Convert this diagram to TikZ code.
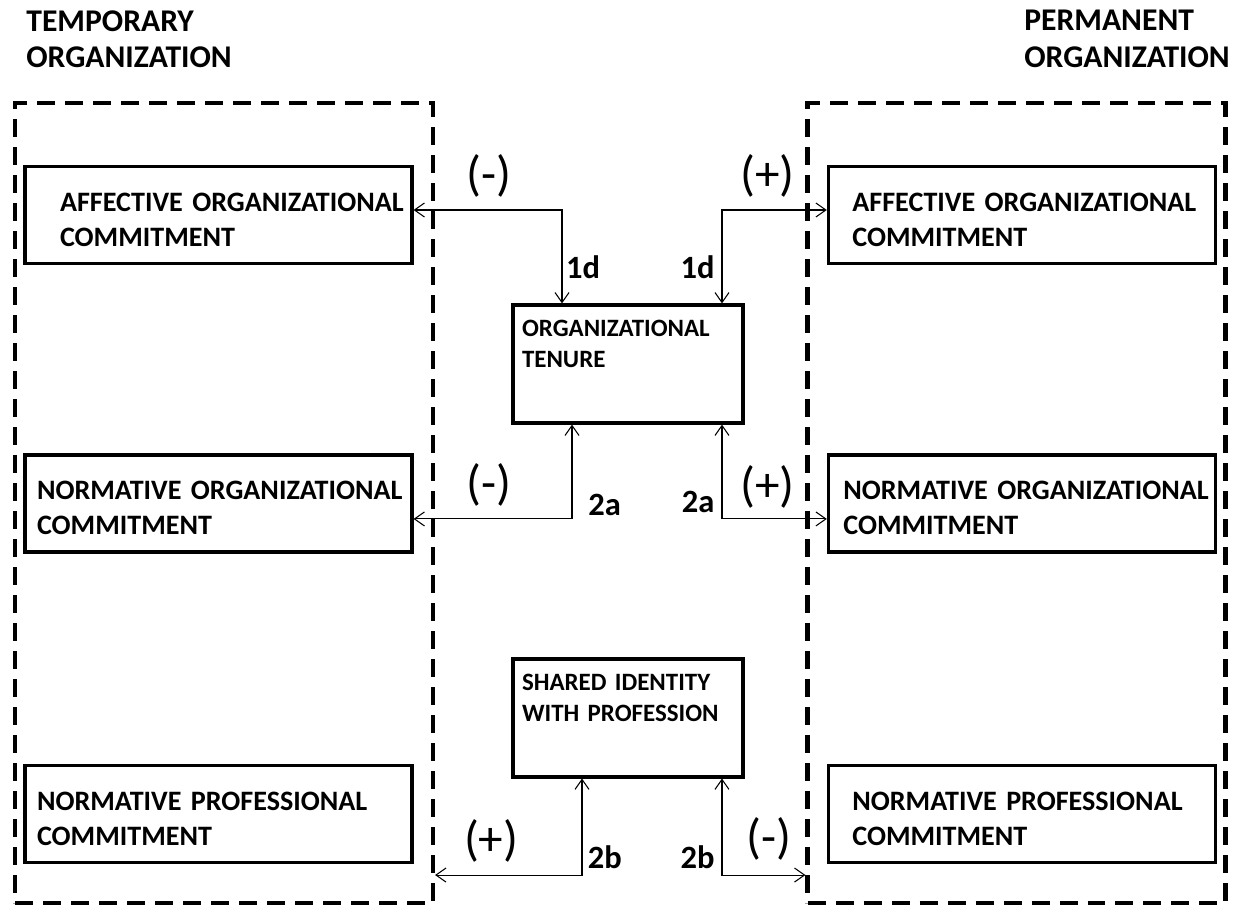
\documentclass[tikz,border=0pt]{standalone}
\usepackage{fontspec}
\setmainfont{Carlito}
\usetikzlibrary{arrows.meta,positioning}

\begin{document}
\begin{tikzpicture}[x=0.02cm, y=-0.02cm, indent/.style={execute at begin node={\leftskip=#1}}]
	\tikzstyle{org} = [rectangle, draw=black, line width=2.4pt, dash pattern=on 0.36cm off 0.2cm, minimum width=8.36cm, minimum height=16cm, inner sep=0pt]
	\tikzstyle{factor} = [rectangle, draw=black, line width=1.8pt, minimum width=7.74cm, minimum height=1.94cm, text width=7.74cm, text height=0.56cm, inner sep=0pt, align=left, font=\fontsize{16}{20}\selectfont\bfseries]
	\tikzstyle{mediator} = [rectangle, draw=black, line width=1.8pt, minimum width=4.6cm, minimum height=2.36cm, text width=4.24cm, text depth=1.42cm, inner xsep=0.18cm, inner ysep=0pt, align=left, font=\fontsize{14.2}{17.6}\selectfont\bfseries]
	\tikzstyle{title} = [align=left, inner sep=0pt, font=\fontsize{18}{21}\selectfont\bfseries]
\tikzstyle{link} = [line width=0.6pt, <->, >={Straight Barb[length=2mm,width=2.8mm]}]
	\tikzstyle{sign} = [inner sep=1pt, font=\fontsize{28}{28}\selectfont]
	\tikzstyle{hyp} = [inner sep=1pt, font=\fontsize{18.5}{18.5}\selectfont\bfseries]
  \useasboundingbox (0,0) rectangle (1243,905);

  \node(tmp)[org] at (224,503) {};
  \node(perm)[org] at (1016.5,503) {};
  \node(tmpT)[title, anchor=north west] at (26,10) {TEMPORARY\\ORGANIZATION};
  \node(permT)[title, anchor=north west] at (1024,10) {PERMANENT\\ORGANIZATION};

  \node(aocL)[factor, indent=0.7cm] at (218.5,215) {AFFECTIVE~ORGANIZATIONAL\\COMMITMENT};
  \node(nocL)[factor, indent=0.24cm, node distance=5.77cm, below of = aocL] {NORMATIVE~ORGANIZATIONAL\\COMMITMENT};
  \node(npcL)[factor, indent=0.24cm, node distance=6.21cm, below of = nocL] {NORMATIVE~PROFESSIONAL\\COMMITMENT};
  \node(aocR)[factor, indent=0.48cm, node distance=16.07cm, right of = aocL] {AFFECTIVE~ORGANIZATIONAL\\COMMITMENT};
  \node(nocR)[factor, indent=0.3cm, node distance=16.07cm, right of = nocL] {NORMATIVE~ORGANIZATIONAL\\COMMITMENT};
  \node(npcR)[factor, indent=0.48cm, node distance=16.07cm, right of = npcL] {NORMATIVE~PROFESSIONAL\\COMMITMENT};

  \node(tenure)[mediator] at (628,364) {ORGANIZATIONAL\\TENURE};
  \node(shared)[mediator, node distance=7.08cm, below of = tenure] {SHARED IDENTITY\\WITH PROFESSION};

  % hypotheses 1d
  \draw [link] ([xshift=-1.32cm]tenure.north) |- node(h1dL)[hyp, pos=0.195, right=1pt]{1d} node(s1dL)[sign, pos=0.747, above=6pt]{(-)} ([yshift=0.1cm]aocL.east);
  \draw [link] ([xshift=1.88cm]tenure.north) |- node(h1dR)[hyp, pos=0.195, left=3pt]{1d} node(s1dR)[sign, pos=0.717, above=6pt]{(+)} ([yshift=0.1cm]aocR.west);
  % hypotheses 2a
  \draw [link] ([xshift=-1.12cm]tenure.south) |- node(h2aL)[hyp, pos=0.427, right=8pt]{2a} node(s2aL)[sign, pos=0.762, above=6pt]{(-)} ([yshift=-0.31cm]nocL.east);
  \draw [link] ([xshift=1.88cm]tenure.south) |- node(h2aR)[hyp, pos=0.41, left=3pt]{2a} node(s2aR)[sign, pos=0.717, above=5pt]{(+)} ([yshift=-0.31cm]nocR.west);
  % hypotheses 2b
  \draw [link] ([xshift=-0.92cm]shared.south) |- node(h2bL)[hyp, pos=0.41, right=2pt]{2b} node(s2bL)[sign, pos=0.809, above=6pt]{(+)} ([yshift=0.6cm]tmp.south east);
  \draw [link] ([xshift=1.88cm]shared.south) |- node(h2bR)[hyp, pos=0.41, left=3pt]{2b} node(s2bR)[sign, pos=0.782, above=7pt]{(-)} ([yshift=0.6cm]perm.south west);
\end{tikzpicture}
\end{document}
